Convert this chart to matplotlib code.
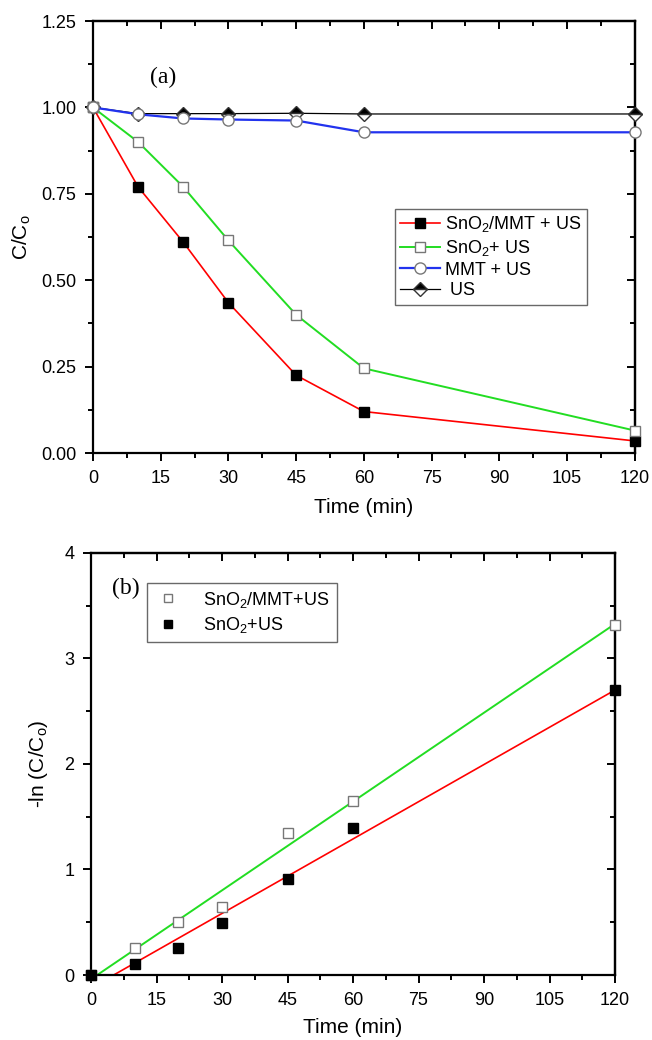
import numpy as np
import matplotlib
matplotlib.use('Agg')
import matplotlib.pyplot as plt
from matplotlib.ticker import MultipleLocator, FormatStrFormatter

plt.rcParams['font.family'] = ['Liberation Sans', 'DejaVu Sans']
plt.rcParams['mathtext.fontset'] = 'custom'
plt.rcParams['mathtext.rm'] = 'Liberation Sans'
plt.rcParams['mathtext.it'] = 'Liberation Sans'

# sampling times (min)
time = [0, 10, 20, 30, 45, 60, 120]

# C/Co for each system
sno2_mmt_us = [1.0, 0.77, 0.61, 0.435, 0.225, 0.12, 0.035]
sno2_us = [1.0, 0.90, 0.77, 0.615, 0.40, 0.245, 0.065]
mmt_us = [1.0, 0.98, 0.968, 0.965, 0.962, 0.928, 0.928]
us_only = [1.0, 0.982, 0.982, 0.982, 0.983, 0.981, 0.981]

# -ln(C/Co) kinetics
kin_open = [0.0, 0.26, 0.50, 0.64, 1.35, 1.65, 3.32]
kin_filled = [0.0, 0.10, 0.26, 0.49, 0.91, 1.39, 2.70]


def style_axes(ax, xmaj, xmin, ymaj, ymin):
    for s in ax.spines.values():
        s.set_linewidth(1.6)
    ax.xaxis.set_major_locator(MultipleLocator(xmaj))
    ax.xaxis.set_minor_locator(MultipleLocator(xmin))
    ax.yaxis.set_major_locator(MultipleLocator(ymaj))
    ax.yaxis.set_minor_locator(MultipleLocator(ymin))
    ax.tick_params(which='both', direction='out', width=1.4, labelsize=13, pad=6)
    ax.tick_params(which='major', length=6)
    ax.tick_params(which='minor', length=3.5)
    # mirrored ticks on top/right point inward
    sec = ax.secondary_xaxis('top')
    sec.xaxis.set_major_locator(MultipleLocator(xmaj))
    sec.xaxis.set_minor_locator(MultipleLocator(xmin))
    sec.tick_params(which='both', direction='in', width=1.4, labeltop=False)
    sec.tick_params(which='major', length=6)
    sec.tick_params(which='minor', length=3.5)
    sec.spines['top'].set_linewidth(1.6)
    secy = ax.secondary_yaxis('right')
    secy.yaxis.set_major_locator(MultipleLocator(ymaj))
    secy.yaxis.set_minor_locator(MultipleLocator(ymin))
    secy.tick_params(which='both', direction='in', width=1.4, labelright=False)
    secy.tick_params(which='major', length=6)
    secy.tick_params(which='minor', length=3.5)
    secy.spines['right'].set_linewidth(1.6)


fig = plt.figure(figsize=(6.52, 10.4), dpi=100)

# ---- (a) degradation curves
ax1 = fig.add_axes([0.1426, 0.5644, 0.831, 0.4154])
ax1.plot(time, sno2_mmt_us, '-', color='red', lw=1.2, marker='s', ms=7,
         mfc='black', mec='black', label='SnO$_2$/MMT + US', zorder=4, clip_on=False)
ax1.plot(time, sno2_us, '-', color='#22dd22', lw=1.4, marker='s', ms=7,
         mfc='white', mec='#777777', label='SnO$_2$+ US', zorder=4, clip_on=False)
ax1.plot(time, us_only, '-', color='black', lw=0.9, marker='D', ms=7,
         fillstyle='top', mfc='black', mfcalt='white', mec='#333333', label=' US',
         zorder=3, clip_on=False)
ax1.plot(time, mmt_us, '-', color='#2233ee', lw=1.6, marker='o', ms=8,
         mfc='white', mec='#777777', label='MMT + US', zorder=5, clip_on=False)
ax1.set_xlim(0, 120)
ax1.set_ylim(0, 1.25)
style_axes(ax1, 15, 7.5, 0.25, 0.125)
ax1.yaxis.set_major_formatter(FormatStrFormatter('%.2f'))
ax1.set_xlabel('Time (min)', fontsize=15, labelpad=8)
ax1.set_ylabel('C/C$_\\mathrm{o}$', fontsize=15, labelpad=6)
ax1.text(0.105, 0.87, '(a)', transform=ax1.transAxes, fontsize=17,
         family='Liberation Serif', va='center')
h, l = ax1.get_legend_handles_labels()
order = [0, 1, 3, 2]
leg1 = ax1.legend([h[i] for i in order], [l[i] for i in order],
                  loc='upper left', bbox_to_anchor=(0.557, 0.565),
                  fontsize=13, frameon=True, fancybox=False, handlelength=2.2,
                  handletextpad=0.3, borderpad=0.3, labelspacing=0.2, borderaxespad=0)
leg1.get_frame().set_edgecolor('#444444')
leg1.get_frame().set_linewidth(1.0)

# ---- (b) pseudo-first-order kinetics
ax2 = fig.add_axes([0.1396, 0.0625, 0.8037, 0.4058])
fit_t = np.linspace(0, 120, 200)
p_open = np.polyfit(time, kin_open, 1)
p_filled = np.polyfit(time, kin_filled, 1)
ax2.plot(fit_t, np.polyval(p_open, fit_t), color='#22dd22', lw=1.4, zorder=2)
ax2.plot(fit_t, np.polyval(p_filled, fit_t), color='red', lw=1.2, zorder=2)
ax2.plot(time, kin_open, 's', ms=7, mfc='white', mec='#777777',
         label='SnO$_2$/MMT+US', zorder=4, clip_on=False)
ax2.plot(time, kin_filled, 's', ms=7, mfc='black', mec='black',
         label='SnO$_2$+US', zorder=4, clip_on=False)
ax2.set_xlim(0, 120)
ax2.set_ylim(0, 4)
style_axes(ax2, 15, 7.5, 1, 0.5)
ax2.set_xlabel('Time (min)', fontsize=15, labelpad=7)
ax2.set_ylabel('-ln (C/C$_\\mathrm{o}$)', fontsize=15, labelpad=10)
ax2.text(0.04, 0.915, '(b)', transform=ax2.transAxes, fontsize=17,
         family='Liberation Serif', va='center')
leg2 = ax2.legend(loc='upper left', bbox_to_anchor=(0.107, 0.93), fontsize=13,
                  frameon=True, fancybox=False, handlelength=1.5,
                  handletextpad=1.2, borderpad=0.4, labelspacing=0.3, borderaxespad=0,
                  markerscale=0.8)
leg2.get_frame().set_edgecolor('#444444')
leg2.get_frame().set_linewidth(1.0)

fig.savefig('out.png', dpi=100)
